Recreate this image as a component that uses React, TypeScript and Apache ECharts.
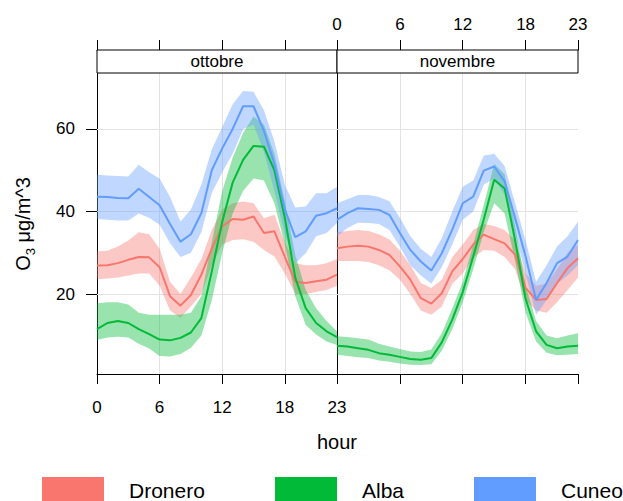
import React, { useEffect, useRef } from "react";
import * as echarts from "echarts";

const FONT = '"Liberation Sans", Arial, Helvetica, sans-serif';

// Hour of day and axis ticks
const hours = [0, 1, 2, 3, 4, 5, 6, 7, 8, 9, 10, 11, 12, 13, 14, 15, 16, 17, 18, 19, 20, 21, 22, 23];
const hourTicks = [0, 6, 12, 18, 23];
const concTicks = [20, 40, 60];
const months = ["ottobre", "novembre"];
const stations = ["Dronero", "Alba", "Cuneo"];
const stationColors = ["#F8766D", "#00BA38", "#619CFF"];

// ottobre — mean O3 with lower / upper confidence limits
const droneroOttMean = [26.9, 27.0, 27.5, 28.3, 29.0, 28.9, 26.5, 19.5, 17.2, 19.8, 24.7, 31.0, 36.4, 38.2, 38.0, 38.8, 34.8, 35.2, 29.0, 23.0, 22.7, 23.1, 23.5, 24.7];
const droneroOttLo = [23.6, 23.8, 24.0, 24.5, 25.0, 25.0, 22.0, 16.0, 14.3, 17.0, 20.0, 27.0, 32.0, 33.1, 33.3, 32.7, 30.7, 29.1, 25.0, 20.0, 20.0, 20.5, 21.0, 22.0];
const droneroOttHi = [30.3, 30.5, 31.5, 33.0, 35.0, 34.5, 31.0, 23.0, 20.0, 24.0, 28.5, 35.5, 40.5, 42.0, 42.4, 42.0, 38.4, 39.2, 32.5, 27.5, 27.0, 27.0, 27.5, 28.5];

const albaOttMean = [11.5, 13.0, 13.5, 13.0, 11.5, 10.3, 9.0, 8.8, 9.4, 10.7, 14.2, 25.5, 37.5, 47.0, 52.5, 55.9, 55.7, 50.0, 38.5, 24.0, 16.6, 13.0, 11.0, 9.6];
const albaOttLo = [8.9, 9.5, 9.7, 9.5, 8.0, 6.8, 5.0, 4.9, 5.5, 7.0, 10.0, 18.5, 30.0, 39.5, 45.0, 48.0, 47.5, 42.0, 32.0, 19.5, 12.5, 10.2, 8.5, 7.7];
const albaOttHi = [17.8, 18.0, 18.0, 17.5, 15.5, 15.0, 15.0, 15.0, 15.0, 15.5, 19.5, 32.5, 45.0, 53.0, 59.0, 63.0, 61.0, 54.0, 42.5, 29.5, 21.0, 16.6, 13.5, 11.0];

const cuneoOttMean = [43.6, 43.5, 43.3, 43.2, 45.5, 43.5, 41.5, 37.0, 32.7, 34.5, 39.6, 50.0, 55.3, 60.0, 65.5, 65.5, 59.5, 51.5, 40.5, 33.8, 35.2, 39.0, 39.6, 40.8];
const cuneoOttLo = [38.2, 38.0, 37.8, 37.8, 39.5, 38.5, 36.8, 32.3, 29.0, 30.0, 35.0, 44.5, 49.5, 54.0, 60.0, 61.0, 54.5, 45.0, 34.5, 27.5, 29.9, 34.0, 34.8, 37.2];
const cuneoOttHi = [48.9, 48.7, 48.6, 48.5, 51.3, 49.5, 48.0, 43.5, 37.6, 40.5, 46.5, 55.0, 60.5, 66.0, 69.2, 69.0, 64.5, 57.0, 46.5, 41.0, 41.2, 44.4, 44.4, 46.0];

// novembre
const droneroNovMean = [31.1, 31.5, 31.7, 31.5, 30.7, 29.5, 26.7, 23.5, 19.0, 17.7, 20.2, 25.5, 28.5, 32.0, 34.4, 33.3, 32.3, 29.5, 21.5, 18.6, 18.8, 22.7, 26.3, 28.7];
const droneroNovLo = [28.0, 28.0, 28.0, 27.8, 27.0, 25.8, 23.5, 20.0, 16.0, 15.0, 17.0, 22.5, 25.0, 28.8, 30.7, 30.5, 29.0, 26.0, 18.5, 16.0, 15.5, 18.0, 21.0, 24.0];
const droneroNovHi = [35.0, 35.3, 35.5, 35.3, 34.5, 33.2, 30.5, 27.0, 22.7, 21.5, 23.5, 29.0, 32.0, 35.5, 37.0, 36.5, 35.5, 33.0, 25.0, 22.0, 22.5, 26.0, 30.0, 32.0];

const albaNovMean = [7.5, 7.3, 6.9, 6.5, 5.7, 5.3, 4.8, 4.3, 4.1, 4.5, 8.3, 13.8, 20.5, 29.1, 38.0, 47.7, 45.6, 33.0, 18.8, 11.0, 7.7, 6.9, 7.3, 7.5];
const albaNovLo = [5.3, 5.0, 4.7, 4.5, 3.9, 3.6, 3.2, 2.9, 2.8, 3.0, 6.3, 11.5, 18.0, 26.0, 35.0, 42.0, 39.5, 28.0, 15.5, 8.5, 5.8, 5.2, 5.3, 5.5];
const albaNovHi = [9.8, 9.6, 9.3, 9.0, 8.0, 7.3, 6.7, 6.1, 6.0, 6.6, 10.5, 16.5, 23.0, 32.0, 41.5, 51.5, 49.0, 36.5, 22.0, 13.5, 10.0, 9.3, 10.0, 10.5];

const cuneoNovMean = [38.0, 39.6, 40.8, 40.6, 40.4, 39.2, 34.8, 30.7, 27.9, 25.7, 29.9, 35.6, 42.0, 43.6, 49.9, 50.9, 47.3, 38.4, 29.1, 18.6, 22.7, 27.5, 29.1, 33.1];
const cuneoNovLo = [34.0, 36.0, 37.3, 37.2, 37.0, 35.5, 31.5, 27.0, 24.5, 22.5, 26.5, 32.0, 38.0, 40.0, 46.5, 48.0, 44.0, 34.5, 25.0, 15.0, 18.5, 22.5, 24.5, 27.0];
const cuneoNovHi = [42.0, 43.0, 44.0, 44.0, 43.5, 42.5, 38.5, 34.0, 31.0, 29.0, 33.5, 40.0, 46.0, 47.5, 53.5, 54.0, 51.0, 42.0, 33.0, 23.0, 27.0, 31.5, 34.0, 37.5];

const panelData = [
  [
    [droneroOttLo, droneroOttMean, droneroOttHi],
    [albaOttLo, albaOttMean, albaOttHi],
    [cuneoOttLo, cuneoOttMean, cuneoOttHi],
  ],
  [
    [droneroNovLo, droneroNovMean, droneroNovHi],
    [albaNovLo, albaNovMean, albaNovHi],
    [cuneoNovLo, cuneoNovMean, cuneoNovHi],
  ],
];

// Panel geometry (pixels)
const PANEL_TOP = 73;
const PANEL_H = 301;
const STRIP_H = 23;
const panelBoxes = [
  { left: 97, width: 240 },
  { left: 337, width: 241 },
];
const Y_MIN = 0.65;
const Y_MAX = 73.55;

function buildOption() {
  const series: any[] = [];

  const gridLines = {
    silent: true,
    symbol: "none",
    z: 1,
    label: { show: false },
    emphasis: { disabled: true },
    lineStyle: { color: "#e3e3e3", width: 1, type: "solid" },
    data: [
      ...hourTicks.slice(1, 4).map((v) => ({ xAxis: v })),
      ...concTicks.map((v) => ({ yAxis: v })),
    ],
  };

  panelData.forEach((stData, p) => {
    const xi = p * 2;
    const yi = p * 2;
    // confidence bands: one polygon per station, upper edge then lower edge
    stData.forEach(([lo, , hi], s) => {
      const fill = echarts.color.modifyAlpha(stationColors[s], 0.4);
      series.push({
        type: "custom",
        xAxisIndex: xi,
        yAxisIndex: yi,
        silent: true,
        z: 2,
        data: hours.map((h, i) => [h, lo[i], hi[i]]),
        encode: { x: 0, y: [1, 2] },
        renderItem: (params: any, api: any) => {
          if (params.dataIndex !== 0) return null;
          const upper = hours.map((h, i) => api.coord([h, hi[i]]));
          const lower = hours.map((h, i) => api.coord([h, lo[i]])).reverse();
          return {
            type: "polygon",
            shape: { points: upper.concat(lower) },
            style: { fill },
          };
        },
      });
    });
    // mean lines
    stData.forEach(([, mean], s) => {
      series.push({
        type: "line",
        name: stations[s],
        xAxisIndex: xi,
        yAxisIndex: yi,
        data: hours.map((h, i) => [h, mean[i]]),
        symbol: "none",
        silent: true,
        lineStyle: { color: stationColors[s], width: 2 },
        itemStyle: { color: stationColors[s] },
        z: 3,
        ...(s === 0 ? { markLine: gridLines } : {}),
      });
    });
  });

  const axisLine = { show: true, lineStyle: { color: "#000", width: 1 } };
  const labelStyle = { color: "#000", fontSize: 17, fontFamily: FONT };

  const xAxisFor = (grid: number, position: string, labels: boolean, offset = 0) => ({
    type: "value",
    gridIndex: grid,
    position,
    offset,
    min: 0,
    max: 23,
    axisLine,
    splitLine: { show: false },
    axisTick: {
      show: true,
      inside: false,
      length: 10,
      customValues: hourTicks,
      lineStyle: { color: "#000", width: 1 },
    },
    axisLabel: labels
      ? { show: true, customValues: hourTicks, margin: position === "top" ? 17 : 25, ...labelStyle }
      : { show: false },
  });

  const yAxisFor = (grid: number, position: string, ticks: boolean, labels: boolean) => ({
    type: "value",
    gridIndex: grid,
    position,
    min: Y_MIN,
    max: Y_MAX,
    axisLine,
    splitLine: { show: false },
    axisTick: ticks
      ? { show: true, inside: false, length: 11, customValues: concTicks, lineStyle: { color: "#000", width: 1 } }
      : { show: false },
    axisLabel: labels
      ? { show: true, customValues: concTicks, margin: 22, ...labelStyle }
      : { show: false },
  });

  const graphic: any[] = [];
  panelBoxes.forEach((b, p) => {
    graphic.push({
      type: "rect",
      shape: { x: b.left, y: PANEL_TOP - STRIP_H, width: b.width, height: STRIP_H },
      style: { fill: "#fff", stroke: "#000", lineWidth: 1 },
      z: 5,
    });
    graphic.push({
      type: "text",
      x: b.left + b.width / 2,
      y: PANEL_TOP - STRIP_H / 2,
      style: {
        text: months[p],
        fontSize: 17,
        fontFamily: FONT,
        fill: "#000",
        align: "center",
        verticalAlign: "middle",
      },
      z: 6,
    });
  });

  // y-axis title with subscript
  graphic.push({
    type: "text",
    x: 23,
    y: 224,
    rotation: Math.PI / 2,
    style: {
      text: "{n|O}{s|3}{n| μg/m^3}",
      align: "center",
      verticalAlign: "middle",
      fill: "#000",
      fontFamily: FONT,
      rich: {
        n: { fontSize: 20, lineHeight: 28, verticalAlign: "middle", fontFamily: FONT, fill: "#000" },
        s: { fontSize: 13, lineHeight: 28, verticalAlign: "bottom", fontFamily: FONT, fill: "#000" },
      },
    },
  });

  // x-axis title
  graphic.push({
    type: "text",
    x: 337,
    y: 442,
    style: {
      text: "hour",
      fontSize: 20,
      fontFamily: FONT,
      fill: "#000",
      align: "center",
      verticalAlign: "middle",
    },
  });

  // key
  const keyX = [42, 275, 474];
  stations.forEach((name, s) => {
    graphic.push({
      type: "rect",
      shape: { x: keyX[s], y: 477, width: 62, height: 30 },
      style: { fill: stationColors[s] },
    });
    graphic.push({
      type: "text",
      x: keyX[s] + 87,
      y: 490,
      style: {
        text: name,
        fontSize: 21,
        fontFamily: FONT,
        fill: "#000",
        align: "left",
        verticalAlign: "middle",
      },
    });
  });

  return {
    animation: false,
    backgroundColor: "#fff",
    textStyle: { fontFamily: FONT },
    grid: panelBoxes.map((b) => ({
      left: b.left,
      top: PANEL_TOP,
      width: b.width,
      height: PANEL_H,
      containLabel: false,
      outerBoundsMode: "none",
      show: false,
    })),
    xAxis: [
      xAxisFor(0, "bottom", true),
      xAxisFor(0, "top", false, STRIP_H),
      xAxisFor(1, "bottom", false),
      xAxisFor(1, "top", true, STRIP_H),
    ],
    yAxis: [
      yAxisFor(0, "left", true, true),
      yAxisFor(0, "right", false, false),
      yAxisFor(1, "left", false, false),
      yAxisFor(1, "right", true, false),
    ],
    series,
    graphic,
  };
}

export default function App() {
  const ref = useRef<HTMLDivElement>(null);
  useEffect(() => {
    if (!ref.current) return;
    const chart = echarts.init(ref.current, undefined, { renderer: "svg" });
    chart.setOption(buildOption() as any);
    return () => chart.dispose();
  }, []);
  return (
    <div
      ref={ref}
      style={{ position: "fixed", left: 0, top: 0, width: 623, height: 501, background: "#fff" }}
    />
  );
}
